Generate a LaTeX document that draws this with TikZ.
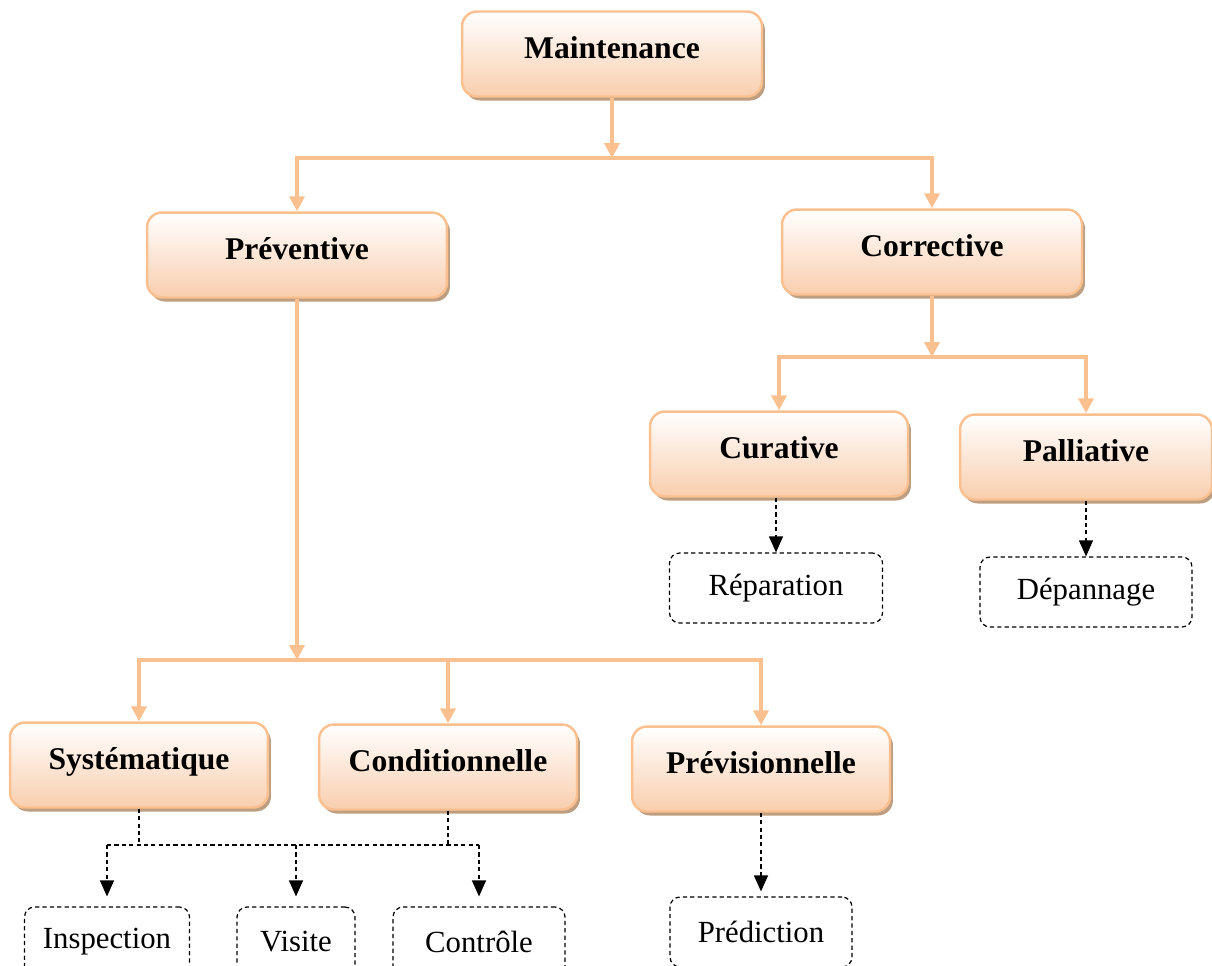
\documentclass[tikz,border=0pt]{standalone}
\usepackage{fontspec}
\setmainfont{Liberation Serif}
\usetikzlibrary{positioning, calc, arrows.meta, shadows}
\definecolor{peach}{RGB}{250,192,143}
\definecolor{peachbot}{RGB}{249,206,174}
\definecolor{boxshade}{RGB}{190,158,128}

\begin{document}
\begin{tikzpicture}[x=0.02cm, y=-0.02cm,
    typebox/.style={draw=peach, line width=1.4pt, rounded corners=0.3cm,
        top color=white, bottom color=peachbot,
        minimum width=6cm, minimum height=1.7cm, inner sep=2pt,
        text height=0.5cm, text depth=0.33cm,
        font=\bfseries\fontsize{18}{20}\selectfont,
        drop shadow={shadow xshift=0.06cm, shadow yshift=-0.08cm, fill=boxshade, opacity=1}},
    subbox/.style={typebox, minimum width=5.16cm},
    taskbox/.style={draw, dash pattern=on 2.4pt off 1.8pt, line width=0.7pt,
        rounded corners=0.2cm, minimum height=1.4cm,
        font=\fontsize{17.5}{19}\selectfont},
    link/.style={peach, line width=2.2pt, line join=miter},
    linkarr/.style={link, -{Triangle[width=0.3cm, length=0.3cm]}},
    dlink/.style={black, dash pattern=on 2.4pt off 1.8pt, line width=0.7pt},
    dlinkarr/.style={dlink, -{Triangle[width=0.28cm, length=0.32cm]}}]

    \useasboundingbox (0,0) rectangle (1212,965);
    \clip (0,0) rectangle (1212,965);

    % main types
    \node[typebox] (maint) at (612,54) {Maintenance};
    \node[typebox] (prev) at (297,255) {Préventive};
    \node[typebox] (corr) at (932,252) {Corrective};

    % corrective
    \node[subbox] (cura) at (779,454) {Curative};
    \node[subbox, minimum width=5.04cm] (pall) at (1086,457) {Palliative};
    \node[taskbox, minimum width=4.26cm] (repa) at (776,588) {Réparation};
    \node[taskbox, minimum width=4.24cm] (depa) at (1086,592) {Dépannage};

    % preventive
    \node[subbox] (syst) at (139,765) {Systématique};
    \node[subbox] (cond) at (448,767) {Conditionnelle};
    \node[subbox] (previ) at (761,769) {Prévisionnelle};
    \node[taskbox, minimum width=3.3cm] (insp) at (107,942) {Inspection};
    \node[taskbox, minimum width=2.36cm] (visi) at (296,942) {Visite};
    \node[taskbox, minimum width=3.44cm] (ctrl) at (479,942) {Contrôle};
    \node[taskbox, minimum width=3.64cm] (pred) at (761,932) {Prédiction};

    % buses
    \coordinate (bus1) at (614,158);
    \coordinate (bus2) at (935,357);
    \coordinate (bus3) at (297,660);
    \coordinate (dbus) at (300,845);

    \draw[linkarr] (maint.south) -- (maint.south |- bus1);
    \draw[link, {Triangle[width=0.3cm, length=0.3cm]}-{Triangle[width=0.3cm, length=0.3cm]}]
        (prev.north) -- (prev.north |- bus1) -- (corr.north |- bus1) -- (corr.north);

    \draw[linkarr] (corr.south) -- (corr.south |- bus2);
    \draw[link, {Triangle[width=0.3cm, length=0.3cm]}-{Triangle[width=0.3cm, length=0.3cm]}]
        (cura.north) -- (cura.north |- bus2) -- (pall.north |- bus2) -- (pall.north);

    \draw[linkarr] (prev.south) -- (prev.south |- bus3);
    \draw[link, {Triangle[width=0.3cm, length=0.3cm]}-{Triangle[width=0.3cm, length=0.3cm]}]
        (syst.north) -- (syst.north |- bus3) -- (previ.north |- bus3) -- (previ.north);
    \draw[linkarr] (cond.north |- bus3) -- (cond.north);

    % dashed links
    \draw[dlinkarr] (repa.north |- cura.south) -- (repa.north);
    \draw[dlinkarr] (pall.south) -- (depa.north);
    \draw[dlinkarr, shorten >=0.1cm] (previ.south) -- (pred.north);

    \draw[dlink] (syst.south) -- (syst.south |- dbus);
    \draw[dlink] (cond.south) -- (cond.south |- dbus);
    \draw[dlink] (insp.north |- dbus) -- (ctrl.north |- dbus);
    \draw[dlinkarr, shorten >=0.2cm] (insp.north |- dbus) -- (insp.north);
    \draw[dlinkarr, shorten >=0.2cm] (visi.north |- dbus) -- (visi.north);
    \draw[dlinkarr, shorten >=0.2cm] (ctrl.north |- dbus) -- (ctrl.north);
\end{tikzpicture}
\end{document}
